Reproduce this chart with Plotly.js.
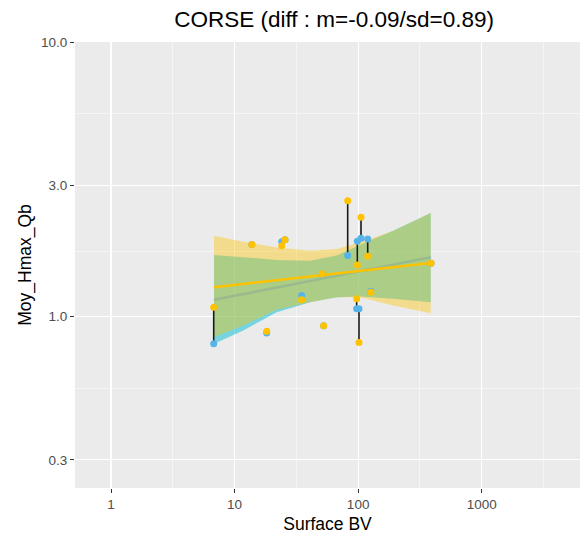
<!DOCTYPE html>
<html>
<head>
<meta charset="utf-8">
<script src="https://cdn.plot.ly/plotly-3.0.1.min.js"></script>
<style>html,body{margin:0;padding:0;background:#fff;}#chart{width:587px;height:539px;}</style>
</head>
<body>
<div id="chart"></div>
<script>
// ---- data ----
const siteX       = [6.78, 13.8, 24.1, 25.6, 18.2, 34.9, 51.3, 52.6, 82.3, 105.5, 98.5, 119.5, 97.3, 101.6, 127, 389];
const hmaxBlue    = [0.796, 1.83, 1.874, 1.905, 0.870, 1.192, 1.43, 0.925, 1.667, 1.927, 1.879, 1.917, 1.067, 1.067, 1.235, 1.563];
const hmaxYellow  = [1.08, 1.83, 1.812, 1.905, 0.884, 1.150, 1.43, 0.925, 2.64, 2.30, 1.542, 1.657, 1.160, 0.804, 1.226, 1.563];

const fitX        = [6.82, 386.5];
const fitBlue     = [1.150, 1.643];
const fitYellow   = [1.278, 1.567];

const bandX       = [6.82, 11.77, 21.9, 40.8, 67.1, 103.5, 192.6, 386.5];
const yellowUpper = [1.970, 1.874, 1.786, 1.738, 1.763, 1.863, 2.055, 2.384];
const yellowLower = [0.841, 0.927, 1.058, 1.127, 1.175, 1.175, 1.096, 1.028];
const blueUpper   = [1.676, 1.643, 1.608, 1.598, 1.667, 1.823, 2.055, 2.384];
const blueLower   = [0.796, 0.889, 1.037, 1.127, 1.175, 1.182, 1.160, 1.127];

const xTicks = [1, 10, 100, 1000];
const xTickText = ['1', '10', '100', '1000'];
const xMinor = [3.162, 31.62, 316.2, 3162];
const yTicks = [0.3, 1, 3, 10];
const yTickText = ['0.3', '1.0', '3.0', '10.0'];
const yMinor = [0.5477, 1.732, 5.477];

const titleText = 'CORSE (diff : m=-0.09/sd=0.89)';
// --------------------------------------

const BLUE = '#56B4E9';
const YEL = '#FFC200';

// segments between paired values
const segX = [], segY = [];
for (let i = 0; i < siteX.length; i++) {
  segX.push(siteX[i], siteX[i], null);
  segY.push(hmaxBlue[i], hmaxYellow[i], null);
}

const edge = {width: 0, shape: 'linear'};
const traces = [
  {x: bandX, y: blueLower, mode: 'lines', line: edge, hoverinfo: 'skip', showlegend: false},
  {x: bandX, y: blueUpper, mode: 'lines', line: edge, fill: 'tonexty', fillcolor: 'rgba(0,190,212,0.5)', hoverinfo: 'skip', showlegend: false},
  {x: fitX, y: fitBlue, mode: 'lines', line: {color: BLUE, width: 2.6}, showlegend: false},
  {x: bandX, y: yellowLower, mode: 'lines', line: edge, hoverinfo: 'skip', showlegend: false},
  {x: bandX, y: yellowUpper, mode: 'lines', line: edge, fill: 'tonexty', fillcolor: 'rgba(255,195,0,0.4)', hoverinfo: 'skip', showlegend: false},
  {x: fitX, y: fitYellow, mode: 'lines', line: {color: YEL, width: 2.6}, showlegend: false},
  {x: segX, y: segY, mode: 'lines', line: {color: '#1a1a1a', width: 1.6}, connectgaps: false, showlegend: false},
  {x: siteX, y: hmaxBlue, mode: 'markers', marker: {color: BLUE, size: 7}, showlegend: false},
  {x: siteX, y: hmaxYellow, mode: 'markers', marker: {color: YEL, size: 7}, showlegend: false}
];

const FONT = 'Liberation Sans, Arial, sans-serif';

const layout = {
  width: 587, height: 539,
  margin: {l: 75, r: 7, t: 42, b: 51},
  paper_bgcolor: '#FFFFFF',
  plot_bgcolor: '#EBEBEB',
  font: {family: FONT},
  showlegend: false,
  title: {text: titleText, font: {family: FONT, size: 22.5, color: '#000'}, x: 0.513, xref: 'paper', xanchor: 'center', y: 1 - 19/539, yref: 'container', yanchor: 'middle'},
  xaxis: {
    type: 'log', range: [-0.2913, 3.7954],
    tickmode: 'array', tickvals: xTicks, ticktext: xTickText,
    ticks: 'outside', ticklen: 4, tickwidth: 1, tickcolor: '#333333',
    tickfont: {family: FONT, size: 13.5, color: '#4D4D4D'},
    showgrid: true, gridcolor: '#FFFFFF', gridwidth: 1.1,
    minor: {tickmode: 'array', tickvals: xMinor, showgrid: true, gridcolor: '#FFFFFF', gridwidth: 0.5, ticks: ''},
    zeroline: false, showline: false,
    title: {text: 'Surface BV', font: {family: FONT, size: 17.5, color: '#000'}, standoff: 6}
  },
  yaxis: {
    type: 'log', range: [-0.6255, 1.0008],
    tickmode: 'array', tickvals: yTicks, ticktext: yTickText,
    ticks: 'outside', ticklen: 4, tickwidth: 1, tickcolor: '#333333',
    tickfont: {family: FONT, size: 13.5, color: '#4D4D4D'},
    showgrid: true, gridcolor: '#FFFFFF', gridwidth: 1.1,
    minor: {tickmode: 'array', tickvals: yMinor, showgrid: true, gridcolor: '#FFFFFF', gridwidth: 0.5, ticks: ''},
    zeroline: false, showline: false,
    title: {text: 'Moy_Hmax_Qb', font: {family: FONT, size: 17.5, color: '#000'}, standoff: 4}
  }
};

Plotly.newPlot('chart', traces, layout, {staticPlot: true, displayModeBar: false});
</script>
</body>
</html>
